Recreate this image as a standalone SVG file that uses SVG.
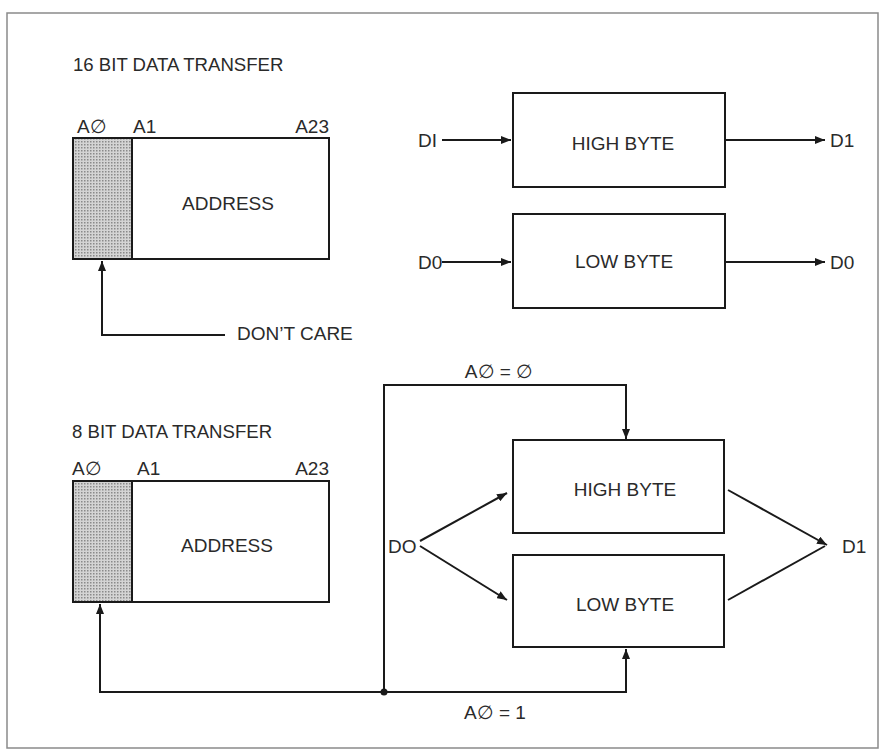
<svg xmlns="http://www.w3.org/2000/svg" width="883" height="751" viewBox="0 0 883 751">
<style>
text{font-family:"Liberation Sans",Arial,sans-serif;fill:#2a2a2a;font-size:19px}
.t{font-size:18.6px}
.box{fill:#fff;stroke:#1a1a1a;stroke-width:2}
.sh{fill:url(#stip);stroke:#1a1a1a;stroke-width:2}
.c{fill:none;stroke:#1a1a1a;stroke-width:2}
.mid{text-anchor:middle}
.end{text-anchor:end}
</style>
<defs>
<pattern id="stip" width="3" height="3" patternUnits="userSpaceOnUse">
<rect width="3" height="3" fill="#d4d4d4"/>
<rect width="1.5" height="1.5" fill="#8a8a8a"/>
</pattern>
<marker id="ah" viewBox="0 0 10 8" refX="10" refY="4" markerWidth="10" markerHeight="8" orient="auto" markerUnits="userSpaceOnUse">
<path d="M0,0 L10,4 L0,8 z" fill="#1a1a1a"/>
</marker>
</defs>
<rect x="7" y="13" width="871" height="735" fill="#fff" stroke="#8a8a8a" stroke-width="1.5"/>

<g id="title16"><text class="t" x="73" y="71">16 BIT DATA TRANSFER</text></g>
<g id="addr16">
<rect class="box" x="73" y="138" width="256" height="121"/>
<rect class="sh" x="73" y="138" width="59" height="121"/>
<text x="77" y="133">A∅</text>
<text x="133" y="133">A1</text>
<text class="end" x="329" y="133">A23</text>
<text class="mid" x="228" y="210">ADDRESS</text>
</g>
<g id="dontcare"><text x="237" y="340">DON’T CARE</text></g>
<g id="high16">
<rect class="box" x="513" y="93" width="212" height="94"/>
<text class="mid" x="623" y="150">HIGH BYTE</text>
</g>
<g id="low16">
<rect class="box" x="513" y="214" width="212" height="94"/>
<text class="mid" x="624" y="268">LOW BYTE</text>
</g>
<g id="labels16">
<text x="418" y="147">DI</text>
<text x="830" y="147">D1</text>
<text x="418" y="269">D0</text>
<text x="830" y="269">D0</text>
</g>

<g id="title8"><text class="t" x="72" y="438">8 BIT DATA TRANSFER</text></g>
<g id="addr8">
<rect class="box" x="73" y="481" width="256" height="121"/>
<rect class="sh" x="73" y="481" width="59" height="121"/>
<text x="72" y="475">A∅</text>
<text x="137" y="475">A1</text>
<text class="end" x="329" y="475">A23</text>
<text class="mid" x="227" y="552">ADDRESS</text>
</g>
<g id="high8">
<rect class="box" x="513" y="440" width="211" height="93"/>
<text class="mid" x="625" y="496">HIGH BYTE</text>
</g>
<g id="low8">
<rect class="box" x="513" y="555" width="211" height="92"/>
<text class="mid" x="625" y="611">LOW BYTE</text>
</g>
<g id="labels8">
<text x="388" y="553">DO</text>
<text x="842" y="553">D1</text>
<text class="mid" x="499" y="378">A∅ = ∅</text>
<text class="mid" x="495" y="719">A∅ = 1</text>
</g>

<g id="connectors">
<path class="c" d="M225,335 H102 V261" marker-end="url(#ah)"/>
<path class="c" d="M442,140 H511" marker-end="url(#ah)"/>
<path class="c" d="M726,140 H825" marker-end="url(#ah)"/>
<path class="c" d="M442,262 H511" marker-end="url(#ah)"/>
<path class="c" d="M726,262 H825" marker-end="url(#ah)"/>
<path class="c" d="M384,692 V385 H626 V439" marker-end="url(#ah)"/>
<path class="c" d="M384,692 H626 V649" marker-end="url(#ah)"/>
<path class="c" d="M384,692 H100 V604" marker-end="url(#ah)"/>
<circle cx="384" cy="692" r="3.5" fill="#1a1a1a"/>
<path class="c" d="M420,541 L507,493" marker-end="url(#ah)"/>
<path class="c" d="M420,546 L507,600" marker-end="url(#ah)"/>
<path class="c" d="M728,490 L827,545" marker-end="url(#ah)"/>
<path class="c" d="M728,600 L825,546"/>
</g>
</svg>
